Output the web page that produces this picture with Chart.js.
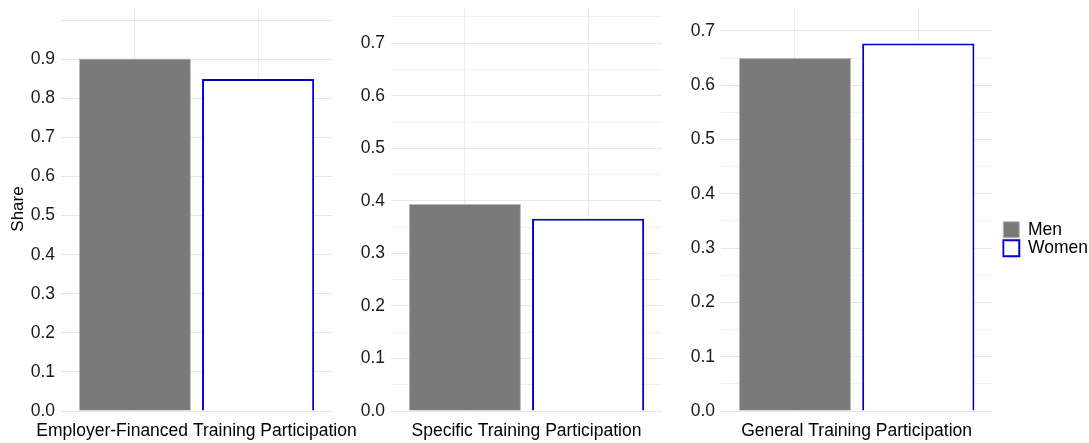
<!DOCTYPE html>
<html lang="en">
<head>
<meta charset="UTF-8">
<script src="https://cdn.jsdelivr.net/npm/chart.js"></script>
<style>
    body { margin: 0; background: #fff; overflow: hidden; }
    .panel { position: absolute; top: 0; }
</style>
</head>
<body>
<canvas class="panel" id="c0" width="365" height="443" style="left:0px"></canvas>
<canvas class="panel" id="c1" width="330" height="443" style="left:340px"></canvas>
<canvas class="panel" id="c2" width="428" height="443" style="left:670px"></canvas>
<script>
// data
const categories = ['Employer-Financed Training Participation', 'Specific Training Participation', 'General Training Participation'];
const seriesNames = ['Men', 'Women'];
const menShare = [0.902, 0.394, 0.650];
const womenShare = [0.850, 0.366, 0.677];
const yAxisMax = [1.034, 0.769, 0.744];
const yLabelMax = [0.9, 0.7, 0.7];

const FONT = '"Liberation Sans", Arial, sans-serif';
const MEN_FILL = '#7a7a7a';
const WOMEN_LINE = '#0000cc';
const padRight = [33, 8, 0];

function gridValues(max) {
    let vals = [];
    for (let i = 0; i * 0.05 <= max + 1e-9; i++) vals.push(Math.round(i * 5) / 100);
    return vals;
}

function makePanel(i) {
    const last = i === categories.length - 1;
    const scales = {
        x: {
            type: 'linear', min: 0.4, max: 2.6,
            offset: false,
            // bars sit at 1 and 2, the panel name goes under the middle (1.5)
            afterBuildTicks: s => { s.ticks = [{ value: 1 }, { value: 1.5 }, { value: 2 }]; },
            ticks: {
                autoSkip: false, maxRotation: 0, minRotation: 0, padding: 10,
                color: '#000',
                font: { family: FONT, size: 17.5 },
                callback: v => (v === 1.5 ? categories[i] : '')
            },
            grid: {
                offset: false, drawTicks: false,
                color: c => (c.tick && c.tick.value === 1.5 ? 'rgba(0,0,0,0)' : '#ebebeb')
            },
            border: { display: false },
            afterFit: s => { s.height = 32; s.paddingLeft = 0; s.paddingRight = 0; }
        },
        y: {
            min: 0, max: yAxisMax[i],
            afterBuildTicks: s => { s.ticks = gridValues(yAxisMax[i]).map(v => ({ value: v })); },
            ticks: {
                padding: 6, color: '#1a1a1a',
                font: { family: FONT, size: 17.5 },
                callback: v => {
                    let k = Math.round(v * 100);
                    return (k % 10 === 0 && v <= yLabelMax[i] + 1e-9) ? v.toFixed(1) : '';
                }
            },
            grid: {
                drawTicks: false,
                color: c => (Math.round(c.tick.value * 100) % 10 === 0 ? '#e6e6e6' : '#f1f1f1')
            },
            border: { display: false },
            title: {
                display: i === 0, text: 'Share', color: '#000',
                font: { family: FONT, size: 17 },
                padding: { top: 8, bottom: 0 }
            },
            afterFit: s => { s.width = i === 0 ? 61 : 51; s.paddingTop = 0; s.paddingBottom = 0; }
        }
    };
    if (last) {
        // empty strip between the plot and the legend
        scales.gap = {
            position: 'right', display: true,
            ticks: { display: false }, grid: { display: false }, border: { display: false },
            afterFit: s => { s.width = 10; s.paddingTop = 0; s.paddingBottom = 0; }
        };
    }
    new Chart(document.getElementById('c' + i), {
        type: 'bar',
        data: {
            datasets: [
                {
                    label: seriesNames[0],
                    data: [{ x: 1, y: menShare[i] }],
                    backgroundColor: MEN_FILL, borderColor: '#b8b8b8', borderWidth: 1
                },
                {
                    label: seriesNames[1],
                    data: [{ x: 2, y: womenShare[i] }],
                    backgroundColor: '#ffffff', borderColor: WOMEN_LINE, borderWidth: 2
                }
            ]
        },
        options: {
            responsive: false,
            animation: false,
            grouped: false,
            categoryPercentage: 1,
            barPercentage: 1.82,
            layout: { padding: { top: 7, right: padRight[i], left: 0, bottom: 0 } },
            scales: scales,
            plugins: {
                tooltip: { enabled: false },
                legend: {
                    display: last,
                    position: 'right',
                    maxWidth: 150,
                    title: { display: true, text: '', font: { size: 10 }, padding: { top: 16, bottom: 0 } },
                    labels: {
                        boxWidth: 16, boxHeight: 16, padding: 1,
                        color: '#000',
                        font: { family: FONT, size: 17.5 }
                    }
                }
            }
        }
    });
}

categories.forEach((c, i) => makePanel(i));
</script>
</body>
</html>
